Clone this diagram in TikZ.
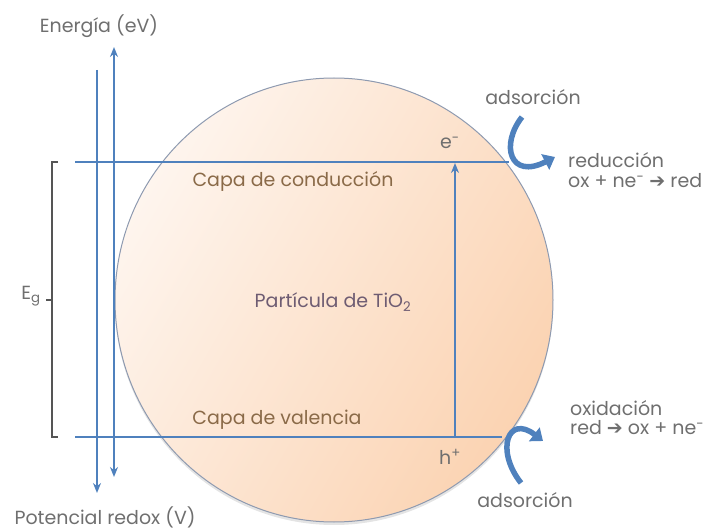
\documentclass[tikz,border=0pt]{standalone}
\usepackage{fontspec}
\setmainfont{Poppins}
\newfontfamily\dv{DejaVu Sans}
\usetikzlibrary{arrows.meta}
\definecolor{band}{HTML}{4F81BD}
\definecolor{txt}{HTML}{6F6F6F}
\definecolor{capa}{HTML}{8A6A48}
\definecolor{part}{HTML}{6E5C72}
\definecolor{rim}{HTML}{8E9AB0}
\definecolor{peachA}{HTML}{FEF5EE}
\definecolor{peachB}{HTML}{FBD3B2}
\definecolor{brk}{HTML}{555555}
\begin{document}
\begin{tikzpicture}[x=1pt,y=-1pt,
  lbl/.style={text=txt, font=\fontsize{19}{21}\selectfont, inner sep=0pt},
  capalbl/.style={lbl, text=capa},
  bandline/.style={draw=band, line width=2pt},
  axisarrow/.style={draw=band, line width=2pt, -{Stealth[length=10pt,width=8pt]}},
  bent/.style={draw=band, line width=5.5pt, -{Triangle[length=11pt,width=17pt]}},
  bracket/.style={draw=brk, line width=1.3pt}]
\useasboundingbox (0,0) rectangle (713,532);
% particle
\fill[black!30, opacity=0.35] (334,303) ellipse [x radius=219, y radius=222];
\shade[left color=peachA, right color=peachB, shading angle=60, draw=rim, line width=1pt]
  (334,300) ellipse [x radius=219, y radius=222];
% coordinates
\coordinate (cbL) at (75,162);
\coordinate (cbR) at (509,162);
\coordinate (vbL) at (75,437);
\coordinate (vbR) at (502,437);
\coordinate (a1top) at (97,70);
\coordinate (a1bot) at (97,493);
\coordinate (a2top) at (114,47);
\coordinate (a2bot) at (114,477);
\coordinate (a2mid) at (114,260);
\coordinate (exB) at (455,437);
\coordinate (exT) at (455,163);
\coordinate (bt1) at (522,117);
\coordinate (bt2) at (555,157);
\coordinate (bb1) at (521,483);
\coordinate (bb2) at (543,441);
% bands
\draw[bandline] (cbL) -- (cbR);
\draw[bandline] (vbL) -- (vbR);
% axes
\draw[axisarrow] (a1top) -- (a1bot);
\draw[axisarrow] (a2mid) -- (a2top);
\draw[axisarrow] (a2mid) -- (a2bot);
% excitation
\draw[axisarrow] (exB) -- (exT);
% bracket
\draw[bracket] (58,162) -- (52,162) -- (52,437) -- (58,437);
\draw[bracket] (52,300) -- (46,300);
% bent arrows
\draw[bent] (bt1) .. controls (500,145) and (510,180) .. (bt2);
\draw[bent] (bb1) .. controls (495,450) and (508,414) .. (bb2);
% labels
\node[lbl] (energia) at (99,26) {Energía (eV)};
\node[lbl] (redox) at (105,517) {Potencial redox (V)};
\node[lbl] (eg) at (31,296) {E\textsubscript{g}};
\node[capalbl] (cond) at (293,181) {Capa de conducción};
\node[capalbl] (val) at (277,420) {Capa de valencia};
\node[lbl, text=part] (part) at (333,302) {Partícula de TiO\textsubscript{2}};
\node[lbl] (e) at (450,143) {e\textsuperscript{-}};
\node[lbl] (h) at (450,457) {h\textsuperscript{+}};
\node[lbl] (ads1) at (533,97) {adsorción};
\node[lbl] (ads2) at (525,500) {adsorción};
\node[lbl, anchor=west] (red1) at (568,160) {reducción};
\node[lbl, anchor=west] (red2) at (568,181) {ox + ne\textsuperscript{-} {\dv ➔} red};
\node[lbl, anchor=west] (ox1) at (570,408) {oxidación};
\node[lbl, anchor=west] (ox2) at (570,428) {red {\dv ➔} ox + ne\textsuperscript{-}};
\end{tikzpicture}
\end{document}
